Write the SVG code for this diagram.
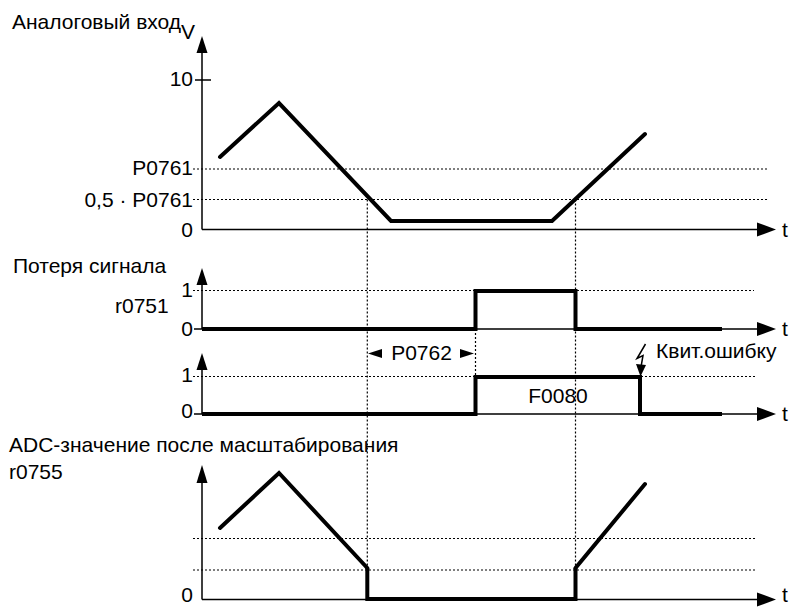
<svg xmlns="http://www.w3.org/2000/svg" width="790" height="607" viewBox="0 0 790 607">
<style>
text{font-family:"Liberation Sans",Arial,sans-serif;font-size:21px;fill:#000}
.ax{stroke:#000;stroke-width:1.5;fill:none}
.dot{stroke:#000;stroke-width:1.2;stroke-dasharray:2 2;fill:none}
.tr{stroke:#000;stroke-width:4;fill:none;stroke-linecap:round;stroke-linejoin:miter}
.sq{stroke:#000;stroke-width:4;fill:none;stroke-linecap:butt;stroke-linejoin:miter}
.ah{fill:#000;stroke:none}
</style>
<rect width="790" height="607" fill="#fff"/>
<g id="guides">
<path class="dot" d="M193 169H768M193 199.5H768"/>
<path class="dot" d="M193 290.5H754M193 376.5H755M193 538.5H755M193 570H755"/>
<path class="dot" d="M367.3 199.5V568M575.5 199.5V568M475.5 329V376"/>
</g>
<g id="plot-analog">
<path class="ax" d="M202 229.5V50M202 229.5H760M195 80H211"/>
<polygon class="ah" points="202,36 196.5,53 207.5,53"/>
<polygon class="ah" points="776,229.5 757,222.5 757,236.5"/>
<text x="12" y="29">Аналоговый вход</text>
<text x="181" y="39">V</text>
<text x="193" y="86" text-anchor="end">10</text>
<text x="193" y="175" text-anchor="end">P0761</text>
<text x="193" y="207" text-anchor="end">0,5 · P0761</text>
<text x="193" y="237" text-anchor="end">0</text>
<text x="782" y="237">t</text>
<path class="tr" d="M220 157L279 103L391 221H552L645 134"/>
</g>
<g id="plot-loss">
<path class="ax" d="M194 329H760M202 329V282"/>
<polygon class="ah" points="202,268 196.5,285 207.5,285"/>
<polygon class="ah" points="776,329 757,322 757,336"/>
<text x="13" y="273">Потеря сигнала</text>
<text x="115" y="313">r0751</text>
<text x="193" y="297" text-anchor="end">1</text>
<text x="193" y="336" text-anchor="end">0</text>
<text x="782" y="336">t</text>
<path class="sq" d="M202 329H475.5V291H575.5V329H722"/>
</g>
<g id="plot-fault">
<path class="ax" d="M194 414H760M202 414V367"/>
<polygon class="ah" points="202,353 196.5,370 207.5,370"/>
<polygon class="ah" points="776,414 757,407 757,421"/>
<text x="193" y="382" text-anchor="end">1</text>
<text x="193" y="418" text-anchor="end">0</text>
<text x="782" y="421">t</text>
<path class="sq" d="M202 414H475.5V377H640V414H722"/>
<text x="558" y="403" text-anchor="middle">F0080</text>
<text x="421.5" y="360" text-anchor="middle">P0762</text>
<polygon class="ah" points="368,353.5 382,349 382,358"/>
<polygon class="ah" points="474,353.5 460,349 460,358"/>
<path class="ax" d="M645.5 344L637 358.5L643 355.5L641 367" stroke-width="1.6"/>
<polygon class="ah" points="636,364 646,365 640.5,376.5"/>
<text x="656" y="358">Квит.ошибку</text>
</g>
<g id="plot-adc">
<path class="ax" d="M202 599.5V480M202 599.5H760"/>
<polygon class="ah" points="202,465 196.5,483 207.5,483"/>
<polygon class="ah" points="776,599.5 757,592.5 757,606.5"/>
<text x="9" y="452">ADC-значение после масштабирования</text>
<text x="9" y="479">r0755</text>
<text x="193" y="602" text-anchor="end">0</text>
<text x="782" y="602">t</text>
<path class="tr" d="M220 528L279 473L367.3 568"/>
<path class="sq" d="M367.3 568V599H575.5V568"/>
<path class="tr" d="M575.5 568L645 484"/>
</g>
</svg>
